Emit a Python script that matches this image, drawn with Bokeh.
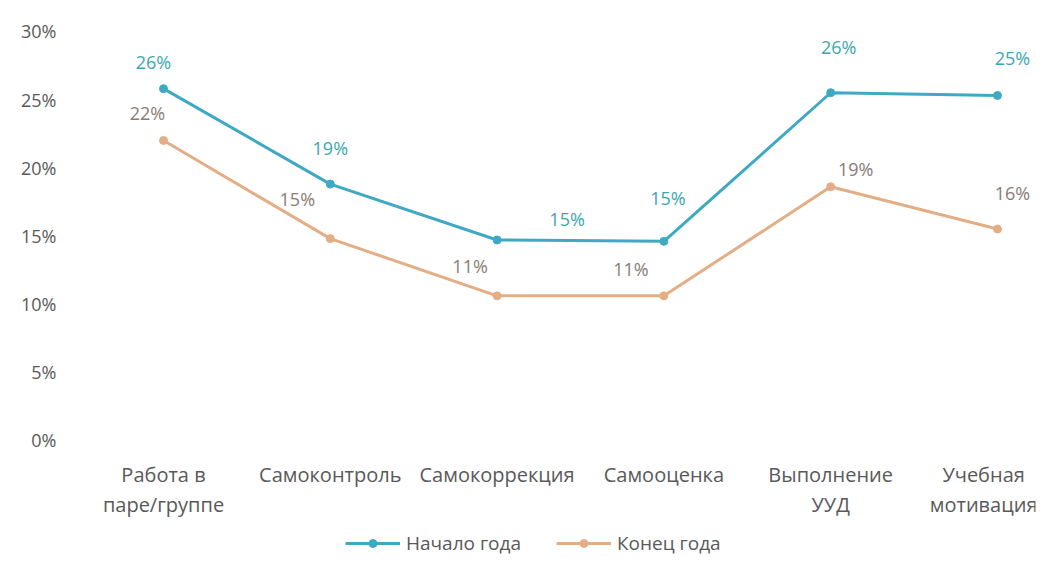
from bokeh.plotting import figure
from bokeh.models import Range1d, FixedTicker, Legend, LegendItem, ColumnDataSource, LabelSet
from bokeh.core.properties import value
from bokeh.embed import file_html
from bokeh.resources import INLINE

categories = ["Работа в\nпаре/группе", "Самоконтроль", "Самокоррекция", "Самооценка", "Выполнение\nУУД", "Учебная\nмотивация"]
start_year = [25.8, 18.8, 14.7, 14.6, 25.5, 25.3]
end_year = [22.0, 14.8, 10.6, 10.6, 18.6, 15.5]
series_names = ["Начало года", "Конец года"]
y_ticks = [0, 5, 10, 15, 20, 25, 30]

# label placement (style)
start_dx = [-10, 0, 70, 4, 8, 15]
start_dy = [27, 36, 21, 43, 46, 37]
end_dx = [-16, -33, -27, -33, 25, 15]
end_dy = [27, 40, 30, 27, 18, 36]

C1 = "#3fa9c4"
C2 = "#e3ae86"
FONT = "Open Sans"

xs = list(range(len(categories)))
p = figure(width=1037, height=556, output_backend="svg", toolbar_location=None,
           x_range=Range1d(-0.4976, 5.228), y_range=Range1d(-8.52, 30.8),
           min_border_left=80, min_border_top=20, min_border_right=2, min_border_bottom=0)
p.outline_line_color = None
p.grid.grid_line_color = None

p.xaxis.fixed_location = -0.88
p.xaxis.ticker = FixedTicker(ticks=xs)
p.xaxis.major_label_overrides = {i: c for i, c in enumerate(categories)}
p.xaxis.axis_line_color = None
p.xaxis.major_tick_line_color = None
p.xaxis.minor_tick_line_color = None
p.xaxis.major_label_text_font = FONT
p.xaxis.major_label_text_font_size = "20px"
p.xaxis.major_label_text_color = "#595959"
p.xaxis.major_label_text_line_height = 1.1
p.xaxis.major_label_standoff = 3

p.yaxis.ticker = FixedTicker(ticks=y_ticks)
p.yaxis.major_label_overrides = {t: f"{t}%" for t in y_ticks}
p.yaxis.axis_line_color = None
p.yaxis.major_tick_line_color = None
p.yaxis.minor_tick_line_color = None
p.yaxis.major_label_text_font = FONT
p.yaxis.major_label_text_font_size = "18px"
p.yaxis.major_label_text_color = "#595959"
p.yaxis.major_label_standoff = 18

r1 = p.line(xs, start_year, line_color=C1, line_width=3)
m1 = p.scatter(xs, start_year, size=8, fill_color=C1, line_color=C1)
r2 = p.line(xs, end_year, line_color=C2, line_width=3)
m2 = p.scatter(xs, end_year, size=8, fill_color=C2, line_color=C2)

s1 = ColumnDataSource(dict(x=xs, y=start_year, t=[f"{round(v)}%" for v in start_year], dx=start_dx, dy=start_dy))
s2 = ColumnDataSource(dict(x=xs, y=end_year, t=[f"{round(v)}%" for v in end_year], dx=end_dx, dy=end_dy))
p.add_layout(LabelSet(x="x", y="y", text="t", source=s1, x_offset="dx", y_offset="dy",
                      text_align="center", text_baseline="middle", text_font=value(FONT),
                      text_font_size="18px", text_color="#3aa7b0"))
p.add_layout(LabelSet(x="x", y="y", text="t", source=s2, x_offset="dx", y_offset="dy",
                      text_align="center", text_baseline="middle", text_font=value(FONT),
                      text_font_size="18px", text_color="#8a7b74"))

legend = Legend(items=[LegendItem(label=series_names[0], renderers=[r1, m1]),
                       LegendItem(label=series_names[1], renderers=[r2, m2])],
                orientation="horizontal", border_line_color=None, background_fill_alpha=0,
                location=(265, 0),
                label_text_font=FONT, label_text_font_size="19px", label_text_color="#595959",
                glyph_width=55, spacing=35, padding=0, margin=0, label_standoff=6)
p.add_layout(legend, "center")

open("out.html", "w").write(file_html(p, INLINE))
